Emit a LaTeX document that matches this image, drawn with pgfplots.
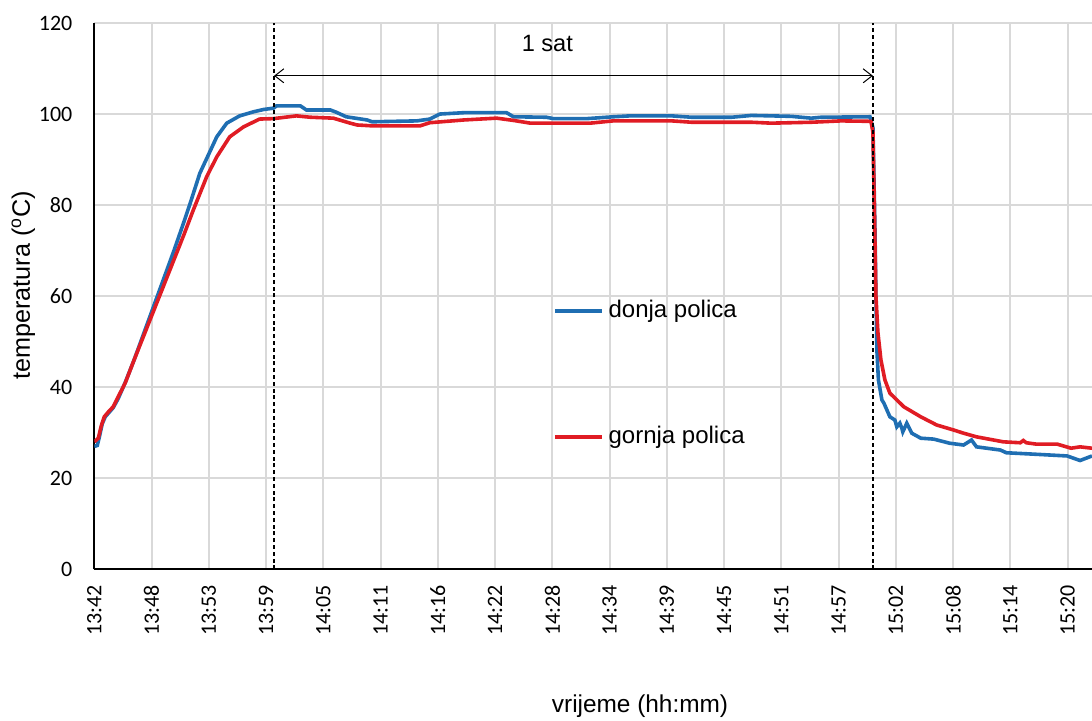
\documentclass[border=0pt]{standalone}
\usepackage{fontspec}
\setmainfont{Liberation Sans}
\newfontfamily\tickfont{Carlito}
\usepackage{pgfplots}
\pgfplotsset{compat=1.18}
\usetikzlibrary{arrows.meta}
\definecolor{donja}{RGB}{31,110,178}
\definecolor{gornja}{RGB}{224,28,36}
\definecolor{gridgray}{RGB}{217,217,217}

\begin{document}
\begin{tikzpicture}
\begin{axis}[
  scale only axis,
  width=498.85pt, height=273.15pt,
  xmin=0, xmax=100.2, ymin=0, ymax=120,
  axis x line*=bottom, axis y line*=left,
  axis line style={line width=1pt, black},
  xtick={0,5.75,11.5,17.25,23,28.75,34.5,40.25,46,51.75,57.5,63.25,69,74.75,80.5,86.25,92,97.75},
  xticklabels={13:42,13:48,13:53,13:59,14:05,14:11,14:16,14:22,14:28,14:34,14:39,14:45,14:51,14:57,15:02,15:08,15:14,15:20},
  ytick={0,20,40,60,80,100,120},
  major tick length=0pt,
  grid=major,
  grid style={gridgray, line width=1pt},
  tick label style={font=\tickfont\fontsize{11}{13}\selectfont},
  xticklabel style={rotate=90, anchor=east, inner sep=0pt},
  yticklabel style={anchor=east, inner sep=0pt},
  xticklabel shift=7.85pt, yticklabel shift=10.8pt,
  /pgf/number format/assume math mode=true,
  xlabel={vrijeme (hh:mm)},
  ylabel={temperatura (\textsuperscript{o}C)},
  every axis x label/.style={at={(axis description cs:0.547,-0.250)}, anchor=center,
    font=\fontsize{12.2}{14}\selectfont},
  every axis y label/.style={at={(axis description cs:-0.0712,0.52)}, rotate=90, anchor=center,
    font=\fontsize{12.6}{14}\selectfont},
  legend style={draw=none, fill=none, at={(axis description cs:0.4598,0.493)}, anchor=north west,
    inner sep=0pt, outer sep=0pt, row sep=51.9pt, font=\fontsize{12}{14}\selectfont,
    nodes={inner xsep=2.5pt, inner ysep=0pt, text height=8.6pt, text depth=2.5pt}},
  legend cell align=left,
  legend image code/.code={\draw[#1] (0pt,0pt) -- (23.5pt,0pt);},
]
% donja polica
\addplot[donja, line width=1.8pt] coordinates {
(0,27) (0.3,27.2) (0.5,29) (0.8,32) (1.1,33.5) (1.5,34.5) (1.9,35.5) (2.4,37.5) (3.1,41)
(4,46) (5,52) (6,58) (7,64) (8,70) (9,76.3) (9.63,80.4) (10.6,87) (11.6,91.7) (12.3,95)
(13.3,98) (14.6,99.6) (16.0,100.5) (17.0,101.0) (18.0,101.3) (18.3,101.8) (20.7,101.8)
(21.3,100.9) (23.7,100.9) (24.3,100.4) (25.3,99.4) (27.4,98.7) (27.9,98.3) (32.4,98.5)
(33.7,98.9) (34.7,100.0) (37.1,100.3) (41.4,100.3) (42.1,99.4) (45.4,99.3) (46.1,99.0)
(49.5,99.0) (52.1,99.4) (53.8,99.6) (58,99.6) (60,99.3) (64,99.3) (66,99.7) (70,99.5)
(72,99.1) (73,99.3) (77.9,99.4) (78.2,97) (78.4,75) (78.5,60) (78.6,48) (78.75,41.6)
(79.1,37.2) (79.3,36.5) (79.9,33.5) (80.4,32.8) (80.6,31.3) (80.9,32.1) (81.1,31.0)
(81.2,30.2) (81.6,32.1) (82.1,29.9) (83.0,28.8) (84.3,28.6) (85.9,27.7) (87.3,27.3)
(88.1,28.4) (88.6,26.9) (91.0,26.2) (91.6,25.6) (94.3,25.3) (97.7,24.9) (99.0,23.9) (100.2,24.9)
};
\addlegendentry{donja polica}
% gornja polica
\addplot[gornja, line width=1.8pt] coordinates {
(0,28) (0.4,28.8) (0.7,31.5) (1.0,33.5) (1.5,34.8) (1.9,35.7) (2.4,37.9) (3.1,40.9)
(4,46) (5,51.5) (6,57) (7,62.5) (8,68) (9,73.5) (9.94,78.9) (11.3,86.3) (12.3,90.6)
(13.6,95) (15.0,97.2) (16.6,98.9) (18.0,99.0) (20.3,99.6) (21.7,99.3) (24.0,99.1)
(25.7,98.0) (26.4,97.6) (28.0,97.4) (32.7,97.4) (33.7,98.1) (37.1,98.7) (40.4,99.1)
(42.1,98.6) (43.8,98.0) (49.8,98.0) (52.1,98.5) (53.8,98.5) (58,98.5) (60,98.2) (66,98.2)
(68,98.0) (72,98.2) (75,98.5) (78.0,98.4) (78.2,96) (78.5,60) (78.7,52) (79.0,46)
(79.4,41.6) (79.9,38.7) (81.3,35.7) (83.0,33.5) (84.6,31.7) (86.3,30.6) (87.3,29.9)
(88.6,29.1) (91.3,28.0) (93.0,27.8) (93.3,28.3) (93.6,27.8) (94.6,27.5) (96.7,27.5)
(98.1,26.6) (99.0,26.9) (100.2,26.6)
};
\addlegendentry{gornja polica}
% annotations
\draw[black, line width=0.6pt, dash pattern=on 2pt off 1.4pt] (axis cs:18.05,0) -- (axis cs:18.05,120);
\draw[black, line width=0.6pt, dash pattern=on 2pt off 1.4pt] (axis cs:78.2,0) -- (axis cs:78.2,120);
\draw[black, line width=0.5pt, {Straight Barb[length=4.5pt,width=7pt]}-{Straight Barb[length=4.5pt,width=7pt]}]
  (axis cs:18.05,108.4) -- (axis cs:78.2,108.4);
\node[font=\fontsize{11.8}{14}\selectfont] at (axis cs:45.5,115.4) {1 sat};
\end{axis}
\pgfresetboundingbox
\useasboundingbox (-47.15pt,-75.35pt) rectangle (498.85pt,284.65pt);
\end{tikzpicture}
\end{document}
